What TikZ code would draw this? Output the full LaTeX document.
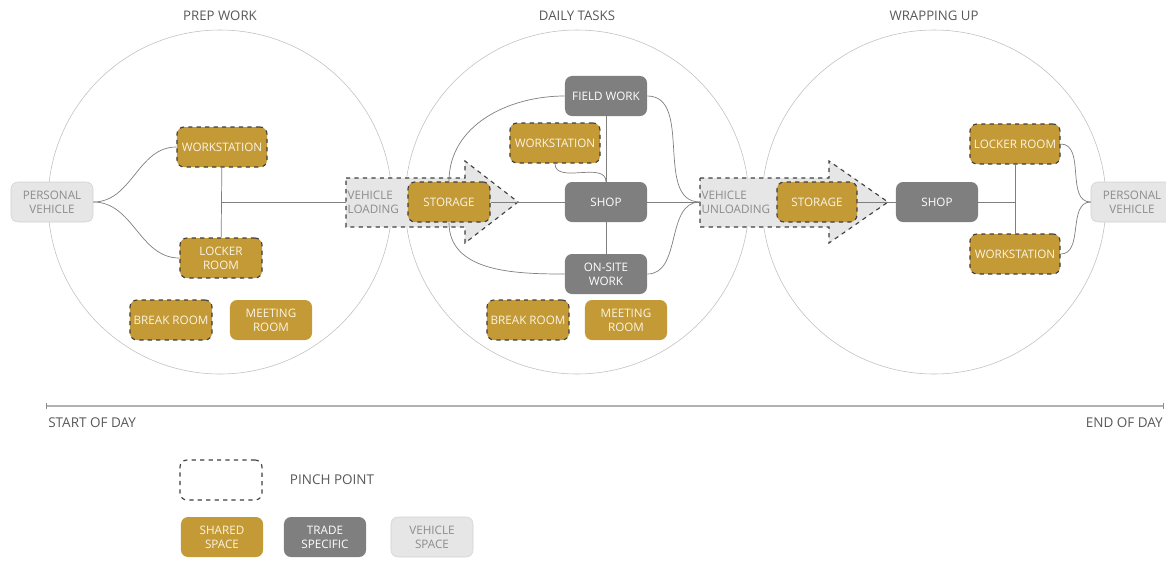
\documentclass[tikz,border=0pt]{standalone}
\usepackage{fontspec}
\setmainfont{Open Sans}
\usepackage{xcolor}
\definecolor{gold}{HTML}{C39A36}
\definecolor{trade}{HTML}{7F7F7F}
\definecolor{vehfill}{HTML}{E6E6E6}
\definecolor{vehline}{HTML}{D2D2D2}
\definecolor{vehtext}{HTML}{8C8C8C}
\definecolor{cream}{HTML}{FBF4E4}
\definecolor{pinch}{HTML}{3F3F3F}

\begin{document}
\begin{tikzpicture}[x=0.025cm, y=0.025cm,
  font=\fontsize{8.3}{10}\selectfont,
  room/.style={rounded corners=5pt, minimum height=1cm, inner sep=1pt, align=center},
  shared/.style={room, fill=gold, text=cream},
  trade/.style={room, fill=trade, text=white},
  vehicle/.style={room, fill=vehfill, draw=vehline, text=vehtext},
  pinched/.style={draw=pinch, dashed, line width=0.8pt},
  flow/.style={draw=vehfill, fill=vehfill, pinched, line join=miter},
  link/.style={draw=trade, line width=0.5pt},
  ring/.style={draw=black!25, line width=0.4pt},
  title/.style={text=black!65, font=\fontsize{9.4}{11}\selectfont},
  plain/.style={text=black!65, font=\fontsize{9.6}{11}\selectfont}]
\clip (0,0) rectangle (1166,-561);
% stages
\foreach \x/\t in {220/PREP WORK,577/DAILY TASKS,934/WRAPPING UP} {
  \draw[ring] (\x,-202) circle[radius=172];
  \node[title] at (\x,-16) {\t};
}
% big arrows: #1 left, #2 head base, #3 tip
\newcommand{\bigarrow}[3]{\path[flow] (#1,-178) -- (#2,-178) -- (#2,-161) -- (#3,-202)
  -- (#2,-243) -- (#2,-227) -- (#1,-227) -- cycle;}
\bigarrow{346}{465}{518}
\bigarrow{700}{829}{888}
\node[anchor=west, inner sep=1pt, align=left, text=vehtext] (load) at (346,-202) {VEHICLE\\LOADING};
\node[anchor=west, inner sep=1pt, align=left, text=vehtext] (unload) at (700,-202) {VEHICLE\\UNLOADING};

% prep work
\node[vehicle, minimum width=2.05cm] (pveh) at (52,-202) {PERSONAL\\VEHICLE};
\node[shared, pinched, minimum width=2.25cm] (pws) at (222,-147) {WORKSTATION};
\node[shared, pinched, minimum width=2.05cm] (plr) at (221,-258) {LOCKER\\ROOM};
\node[shared, pinched, minimum width=2.05cm] (pbr) at (171,-320) {BREAK ROOM};
\node[shared, minimum width=2.05cm] (pmr) at (271,-320) {MEETING\\ROOM};
\coordinate (pj) at (222,-202);
\draw[link] (pws) -- (plr);
\draw[link] (pj) -- (load.west);
\draw[link] (pveh.east) to[out=0, in=180] (pws.west);
\draw[link] (pveh.east) to[out=0, in=180] (plr.west);

% daily tasks
\node[shared, pinched, minimum width=2.05cm] (dsto) at (449,-202) {STORAGE};
\node[trade, minimum width=2.05cm] (dshop) at (606,-202) {SHOP};
\node[trade, minimum width=2.05cm] (field) at (606,-96) {FIELD WORK};
\node[trade, minimum width=2.05cm] (onsite) at (606,-274) {ON-SITE\\WORK};
\node[shared, pinched, minimum width=2.25cm] (dws) at (555,-143) {WORKSTATION};
\node[shared, pinched, minimum width=2.05cm] (dbr) at (528,-320) {BREAK ROOM};
\node[shared, minimum width=2.05cm] (dmr) at (626,-320) {MEETING\\ROOM};
\draw[link] (dsto.east) -- (dshop.west);
\draw[link] (field) -- (dshop);
\draw[link] (dshop) -- (onsite);
\draw[link] (dsto.north) to[out=90, in=180] (field.west);
\draw[link] (dsto.south) to[out=-90, in=180] (onsite.west);
\draw[link] (dws.south) to[out=-90, in=90] (dshop.north);
\draw[link] (field.east) to[out=0, in=180] (unload.west);
\draw[link] (dshop.east) -- (unload.west);
\draw[link] (onsite.east) to[out=0, in=180] (unload.west);

% wrapping up
\node[shared, pinched, minimum width=2cm] (wsto) at (817,-202) {STORAGE};
\node[trade, minimum width=2.05cm] (wshop) at (937,-202) {SHOP};
\node[shared, pinched, minimum width=2.25cm] (wlr) at (1015,-144) {LOCKER ROOM};
\node[shared, pinched, minimum width=2.25cm] (wws) at (1015,-254) {WORKSTATION};
\node[vehicle, minimum width=2.05cm] (wveh) at (1132,-202) {PERSONAL\\VEHICLE};
\coordinate (wj) at (1015,-202);
\draw[link] (wsto) -- (wshop);
\draw[link] (wshop.east) -- (wj);
\draw[link] (wlr) -- (wws);
\draw[link] (wlr.east) to[out=0, in=180] (wveh.west);
\draw[link] (wws.east) to[out=0, in=180] (wveh.west);

% time line
\coordinate (tl) at (46,-406);
\coordinate (tr) at (1163,-406);
\draw[draw=black!30, line width=1.2pt] (tl) -- (tr);
\draw[draw=black!45, line width=0.5pt] ([yshift=-2]tl) -- ([yshift=2]tl) ([yshift=-2]tr) -- ([yshift=2]tr);
\node[plain, anchor=west, inner sep=0pt] (sod) at (48,-423) {START OF DAY};
\node[plain, anchor=east, inner sep=0pt] (eod) at (1163,-423) {END OF DAY};

% legend
\node[room, pinched, minimum width=2.05cm] (lpinch) at (221,-480) {};
\node[plain, anchor=west] (lpinchtxt) at (285,-480) {PINCH POINT};
\node[shared, minimum width=2.05cm] (lshared) at (222,-537) {SHARED\\SPACE};
\node[trade, minimum width=2.05cm] (ltrade) at (325,-537) {TRADE\\SPECIFIC};
\node[vehicle, minimum width=2.05cm] (lveh) at (432,-537) {VEHICLE\\SPACE};
\end{tikzpicture}
\end{document}
